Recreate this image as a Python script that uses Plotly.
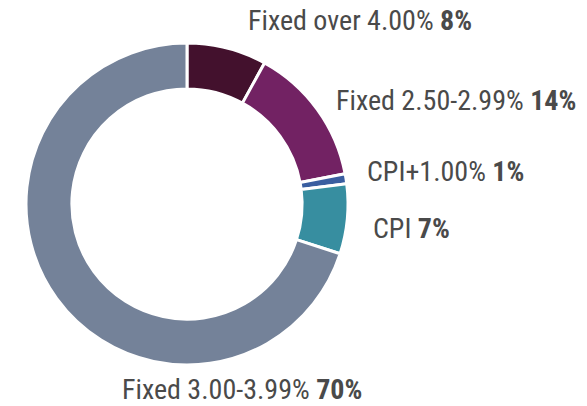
import plotly.graph_objects as go

# Portfolio split by rate type
labels = ["Fixed over 4.00%", "Fixed 2.50-2.99%", "CPI+1.00%", "CPI", "Fixed 3.00-3.99%"]
values = [8, 14, 1, 7, 70]
colors = ["#43112D", "#722263", "#3A5EA0", "#378EA0", "#748299"]

# label anchor points (pixels from top-left) for the outside captions
label_pos = [(246, 21), (334, 101), (365, 171), (371, 228), (120, 389)]

W, H = 587, 406
FONT = "'Liberation Sans Narrow', 'Roboto Condensed', 'Arial Narrow', sans-serif"

fig = go.Figure(go.Pie(
    labels=labels,
    values=values,
    marker=dict(colors=colors, line=dict(color="white", width=3)),
    hole=0.715,
    sort=False,
    direction="clockwise",
    rotation=0,
    textinfo="none",
    hoverinfo="label+percent",
    domain=dict(x=[26 / W, 348 / W], y=[1 - 365 / H, 1 - 43 / H]),
    showlegend=False,
))

for lab, val, (px, py) in zip(labels, values, label_pos):
    fig.add_annotation(
        x=px / W, y=1 - py / H, xref="paper", yref="paper",
        xanchor="left", yanchor="middle", showarrow=False,
        text=f"{lab} <b>{val}%</b>",
        font=dict(family=FONT, size=28, color="#4a4a4a"),
    )

fig.update_layout(
    width=W, height=H,
    margin=dict(l=0, r=0, t=0, b=0),
    paper_bgcolor="white", plot_bgcolor="white",
)

fig.write_html("out.html")
